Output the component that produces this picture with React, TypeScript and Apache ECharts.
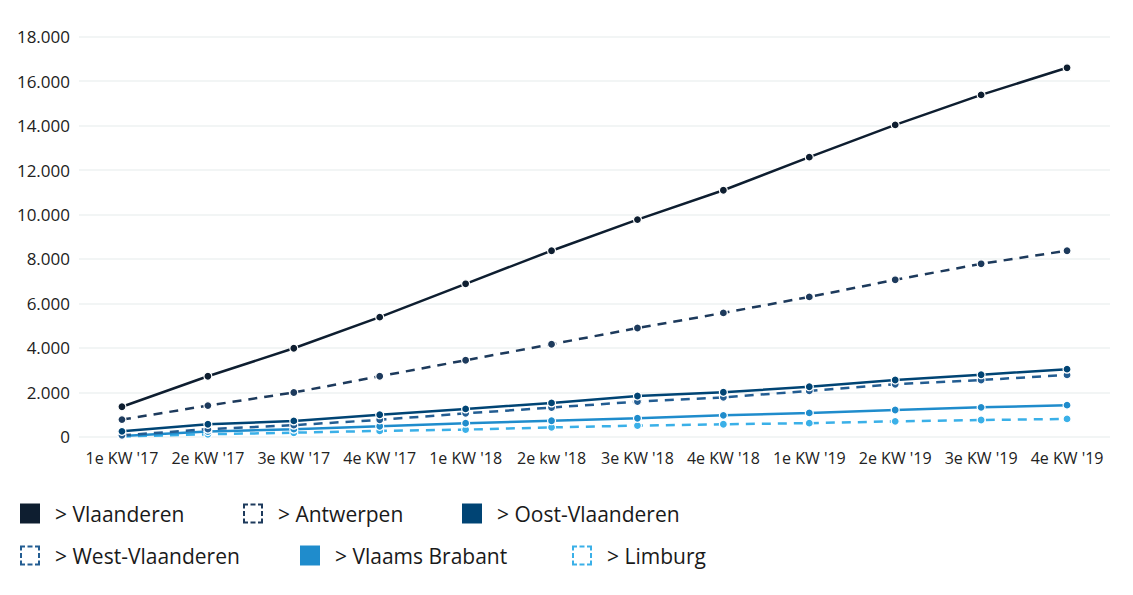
import React, { useEffect, useRef } from "react";
import * as echarts from "echarts";

const categories = ["1e KW '17", "2e KW '17", "3e KW '17", "4e KW '17", "1e KW '18", "2e kw '18", "3e KW '18", "4e KW '18", "1e KW '19", "2e KW '19", "3e KW '19", "4e KW '19"];
const vlaanderen = [1350, 2720, 3980, 5380, 6880, 8370, 9770, 11090, 12580, 14030, 15380, 16600];
const antwerpen = [770, 1400, 1990, 2720, 3440, 4160, 4890, 5570, 6290, 7060, 7780, 8370];
const oostVlaanderen = [240, 560, 710, 990, 1250, 1520, 1830, 2000, 2250, 2550, 2790, 3040];
const westVlaanderen = [60, 340, 520, 760, 1050, 1310, 1580, 1770, 2060, 2360, 2550, 2780];
const vlaamsBrabant = [30, 230, 340, 470, 610, 720, 830, 960, 1070, 1200, 1320, 1420];
const limburg = [10, 110, 180, 260, 320, 420, 500, 560, 610, 690, 750, 800];
const yTicks = [0, 2000, 4000, 6000, 8000, 10000, 12000, 14000, 16000, 18000];

const FONT = "'Open Sans', sans-serif";

// dashed square outline icon (20x20)
const dashedIcon =
  "path://M0,0h5v2h-5z M7.5,0h5v2h-5z M15,0h5v2h-5z " +
  "M0,18h5v2h-5z M7.5,18h5v2h-5z M15,18h5v2h-5z " +
  "M0,0h2v5h-2z M0,7.5h2v5h-2z M0,15h2v5h-2z " +
  "M18,0h2v5h-2z M18,7.5h2v5h-2z M18,15h2v5h-2z";

const seriesDefs = [
  { name: "> Vlaanderen", data: vlaanderen, color: "#0e1e30", dashed: false },
  { name: "> Antwerpen", data: antwerpen, color: "#1d3a5c", dashed: true },
  { name: "> Oost-Vlaanderen", data: oostVlaanderen, color: "#004474", dashed: false },
  { name: "> West-Vlaanderen", data: westVlaanderen, color: "#235d92", dashed: true },
  { name: "> Vlaams Brabant", data: vlaamsBrabant, color: "#1f8ccc", dashed: false },
  { name: "> Limburg", data: limburg, color: "#3ab0e8", dashed: true },
];
const legendPos = [
  [20, 503], [243, 503], [462, 503],
  [20, 545], [300, 545], [572, 545],
];

function fmt(v: number): string {
  return String(v).replace(/\B(?=(\d{3})+(?!\d))/g, ".");
}

export default function App() {
  const ref = useRef<HTMLDivElement>(null);
  useEffect(() => {
    if (!ref.current) return;
    const chart = echarts.init(ref.current, undefined, { renderer: "svg" });
    const legendText = { fontFamily: FONT, fontSize: 21, color: "#1a1a1a", padding: [0, 0, 0, 10] };
    chart.setOption({
      animation: false,
      grid: { left: 79, right: 23, top: 36.7, bottom: 158.3 },
      legend: seriesDefs.map((d, i) => ({
        left: legendPos[i][0],
        top: legendPos[i][1],
        padding: 0,
        itemWidth: 20,
        itemHeight: 20,
        itemStyle: { borderWidth: 0 },
        textStyle: legendText,
        data: [{ name: d.name, icon: d.dashed ? dashedIcon : "rect" }],
      })),
      xAxis: {
        type: "category",
        data: categories,
        boundaryGap: true,
        axisLine: { show: false },
        axisTick: { show: false },
        axisLabel: { fontFamily: FONT, fontSize: 16, color: "#222", margin: 13, interval: 0 },
      },
      yAxis: {
        type: "value",
        min: 0,
        max: 18000,
        interval: 2000,
        axisLine: { show: false },
        axisTick: { show: false },
        splitLine: { lineStyle: { color: "#eef2f2", width: 1.5 } },
        axisLabel: {
          fontFamily: FONT,
          fontSize: 17,
          color: "#222",
          margin: 9,
          formatter: (v: number) => (yTicks.includes(v) ? fmt(v) : ""),
        },
      },
      series: seriesDefs
        .map((d, i) => ({
          name: d.name,
          type: "line",
          data: d.data,
          z: 10 - i,
          symbol: "circle",
          symbolSize: 8,
          showSymbol: true,
          color: d.color,
          itemStyle: { color: d.color, borderColor: "#fff", borderWidth: 1.2 },
          lineStyle: { color: d.color, width: 2.5, type: d.dashed ? [9, 7] : "solid" },
        }))
        .reverse(),
    });
    return () => chart.dispose();
  }, []);
  return (
    <div
      ref={ref}
      style={{ position: "absolute", left: 0, top: 0, width: 1133, height: 595, background: "#fff" }}
    />
  );
}
